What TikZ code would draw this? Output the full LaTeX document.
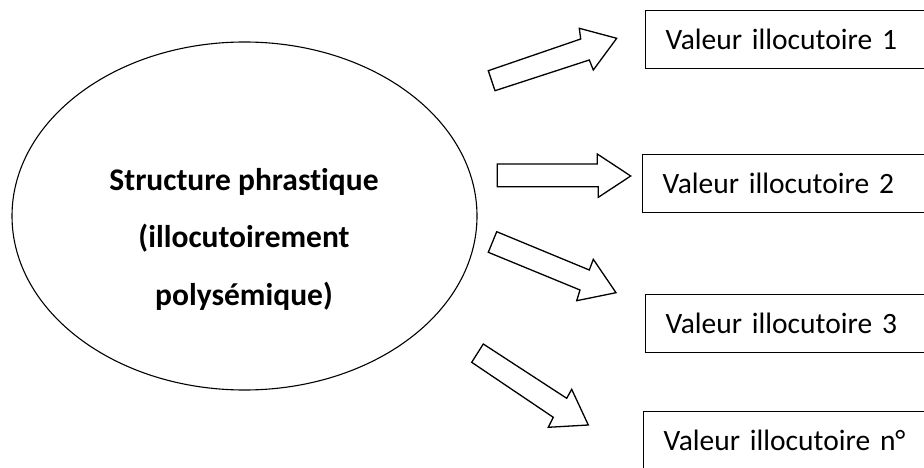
\documentclass[tikz,border=0pt]{standalone}
\usepackage{fontspec}
\usetikzlibrary{shapes.geometric}
\setmainfont{Carlito}[Ligatures=NoCommon]
\newfontfamily\boxfont{Carlito}[Ligatures=NoCommon,WordSpace=0.8]
\begin{document}
\begin{tikzpicture}[x=1pt,y=-1pt,
  outline/.style={draw=black,line width=1.3pt,line join=miter},
  valbox/.style={outline,rectangle,anchor=north west,minimum width=320pt,
    minimum height=58pt,inner xsep=20pt,text width=280pt,align=left,
    font=\boxfont\fontsize{29.5}{34}\selectfont},
  phrase/.style={anchor=base,font=\fontsize{31.5}{36}\selectfont\bfseries},
  blockarrow/.style={outline,fill=white}]
  % canvas
  \useasboundingbox (0,0) rectangle (924,468);
  \clip (0,0) rectangle (924,468);

  % central ellipse and its caption
  \node[draw=black,line width=1.1pt,ellipse,minimum width=465pt,minimum height=348pt,inner sep=0pt]
    (ell) at (244.5,216) {};
  \node[phrase] (l1) at (244,190) {Structure phrastique};
  \node[phrase] (l2) at (244,247.5) {(illocutoirement};
  \node[phrase] (l3) at (244,305) {polysémique)};

  % target boxes
  \node[valbox] (v1) at (645,10)  {Valeur illocutoire 1};
  \node[valbox] (v2) at (642,154) {Valeur illocutoire 2};
  \node[valbox] (v3) at (645,294) {Valeur illocutoire 3};
  \node[valbox] (v4) at (643,411) {Valeur illocutoire n°};

  % block arrows
  \draw[blockarrow] (488.3,70.7) -- (580.7,39) -- (579.3,28.3) -- (616.7,38.3)
    -- (593.3,70) -- (589.3,60) -- (495,90.7) -- cycle;
  \draw[blockarrow] (497.3,164) -- (597.3,164) -- (597.3,154) -- (630.7,176)
    -- (598.3,197.3) -- (598.3,186.7) -- (497.3,186.7) -- cycle;
  \draw[blockarrow] (496.7,231.7) -- (589.3,270) -- (593.3,259.3) -- (616,292.7)
    -- (576.7,300.7) -- (580,290) -- (488.3,252.3) -- cycle;
  \draw[blockarrow] (483.3,344) -- (566.7,398.3) -- (571.7,389.3) -- (588.3,425)
    -- (548.3,427.3) -- (553.3,417.3) -- (471.7,362.3) -- cycle;
\end{tikzpicture}
\end{document}
